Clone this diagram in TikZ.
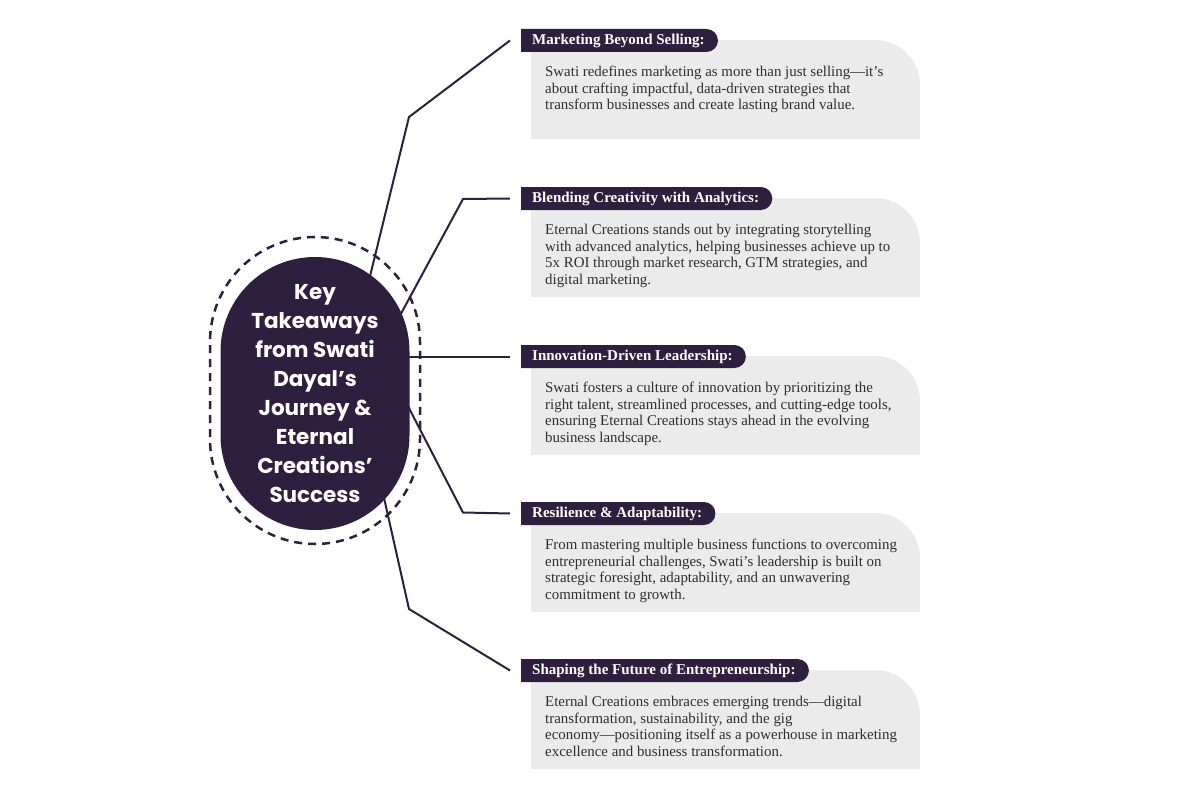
\documentclass[tikz,border=0pt]{standalone}
\usepackage{fontspec}
\setmainfont{Liberation Serif}
\newfontfamily\hubfont{Poppins}
\usetikzlibrary{shapes.misc,calc}
\definecolor{dark}{HTML}{2E1F3F}
\definecolor{boxgray}{HTML}{EBEBEB}
\newcommand\takeaway[4]{%
  \fill[panel] (531,-#2-110) -- (531,-#2-11) -- (875,-#2-11) arc[start angle=90,end angle=0,radius=45] -- (920,-#2-110) -- cycle;
  \node[tag] (t#1) at (521,-#2-11.5) {#3};
  \node[body] (d#1) at (545,-#2-37) {#4};
}
\begin{document}
\begin{tikzpicture}[x=1pt,y=1pt,
  tag/.style={rounded rectangle, rounded rectangle west arc=none, fill=dark, text=white,
    font=\bfseries\fontsize{15}{16}\selectfont, minimum height=23pt, inner xsep=11pt, inner ysep=0pt, anchor=west},
  body/.style={anchor=north west, inner sep=0pt, align=left, text=black!82,
    font=\fontsize{14.9}{16.6}\selectfont},
  conn/.style={draw=dark, line width=2pt},
  panel/.style={fill=boxgray}]
\useasboundingbox (0,0) rectangle (1200,-800);

\takeaway{1}{29}{Marketing Beyond Selling:}{Swati redefines marketing as more than just selling—it’s\\about crafting impactful, data-driven strategies that\\transform businesses and create lasting brand value.}
\takeaway{2}{187}{Blending Creativity with Analytics:}{Eternal Creations stands out by integrating storytelling\\with advanced analytics, helping businesses achieve up to\\5x ROI through market research, GTM strategies, and\\digital marketing.}
\takeaway{3}{345}{Innovation-Driven Leadership:}{Swati fosters a culture of innovation by prioritizing the\\right talent, streamlined processes, and cutting-edge tools,\\ensuring Eternal Creations stays ahead in the evolving\\business landscape.}
\takeaway{4}{502}{Resilience \& Adaptability:}{From mastering multiple business functions to overcoming\\entrepreneurial challenges, Swati’s leadership is built on\\strategic foresight, adaptability, and an unwavering\\commitment to growth.}
\takeaway{5}{659}{Shaping the Future of Entrepreneurship:}{Eternal Creations embraces emerging trends—digital\\transformation, sustainability, and the gig\\economy—positioning itself as a powerhouse in marketing\\excellence and business transformation.}

\coordinate (s1) at (366.5,-290.6); \coordinate (k1) at (409,-117);
\coordinate (s2) at (391,-332.2);   \coordinate (k2) at (463,-199);
\coordinate (s3) at (400,-356.5);
\coordinate (s4) at (399.4,-389.6); \coordinate (k4) at (463,-512.5);
\coordinate (s5) at (380.4,-481.8); \coordinate (k5) at (409,-609);

\draw[conn] (s1) -- (k1) -- ([xshift=-11pt]t1.west);
\draw[conn] (s2) -- (k2) -- ([xshift=-11pt]t2.west);
\draw[conn] (s3) -- ([xshift=-11pt]t3.west);
\draw[conn] (s4) -- (k4) -- ([xshift=-11pt]t4.west);
\draw[conn] (s5) -- (k5) -- ([xshift=-11pt]t5.west);

\node[draw=dark, line width=2.5pt, dash pattern=on 8pt off 6pt, rounded corners=105pt,
  minimum width=210pt, minimum height=307pt, inner sep=0pt] (ring) at (315,-390.5) {};
\node[fill=dark, rounded corners=94.5pt, minimum width=189pt, minimum height=273pt, inner sep=0pt,
  text=white, align=center, font=\hubfont\bfseries\fontsize{21.5}{29}\selectfont] (hub) at (315,-393.5)
  {Key\\Takeaways\\from Swati\\Dayal’s\\Journey \&\\Eternal\\Creations’\\Success};
\end{tikzpicture}
\end{document}
